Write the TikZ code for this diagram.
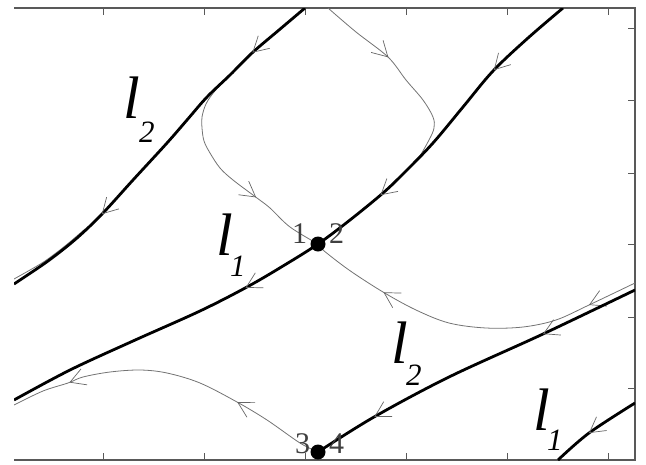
\documentclass[tikz,border=0pt]{standalone}
\usepackage{fontspec}
\setmainfont{Liberation Serif}
\usetikzlibrary{arrows.meta,decorations.markings}
\begin{document}
\begin{tikzpicture}[x=1pt,y=-1pt,
  heavy/.style={line width=2.8pt, black},
  traj/.style={line width=0.8pt, black!55},
  frameline/.style={line width=1.6pt, black!65},
  axtick/.style={line width=0.8pt, black!65},
  flowtip/.tip={Straight Barb[length=15pt,width=17pt,line width=0.7pt,color=black!60]},
  arr/.style={postaction={decorate,decoration={markings,#1}}},
  saddle/.style={circle, fill=black, minimum size=15pt, inner sep=0pt},
  lbl/.style={font=\fontsize{60}{60}\selectfont\itshape, inner sep=0pt, anchor=base west},
  sublbl/.style={font=\fontsize{31}{31}\selectfont\itshape, inner sep=0pt, anchor=base west},
  num/.style={font=\fontsize{30}{30}\selectfont, text=black!75, inner sep=0pt, anchor=base west}]
\useasboundingbox (0,0) rectangle (646,464);
\coordinate (p12) at (318,244);
\coordinate (p34) at (318,452);
% frame and ticks
\draw[frameline] (14,8) -- (635,8) -- (635,460) -- (14,460);
\foreach \x in {103,204,305,406,507,608} {
  \draw[axtick] (\x,8) -- (\x,15);
  \draw[axtick] (\x,460) -- (\x,453);
}
\foreach \y in {28,100,173,244,317,388} {
  \draw[axtick] (635,\y) -- (628,\y);
}
\begin{scope}
\clip (14,8) rectangle (635,460);
% thin trajectories
\draw[traj, arr={mark=at position 78pt with {\arrow{flowtip}}}]
  plot[smooth, tension=0.55] coordinates {(328,8) (356,32) (388,57) (406,80) (423,100) (433,117) (434,128) (429,140) (417,160) (400,177)};
\draw[traj, arr={mark=at position 151pt with {\arrow{flowtip}}}]
  plot[smooth, tension=0.55] coordinates {(228,77) (214,92) (206,104) (202,117) (202,128) (204,141) (210,153) (220,168) (233,180) (257,198) (270,208) (290,227) (p12)};
\draw[traj, arr={mark=at position 51pt with {\arrow{flowtip}}, mark=at position 268pt with {\arrow{flowtip}}}]
  plot[smooth, tension=0.55] coordinates {(635,283) (589,305) (556,320) (523,327) (486,328) (449,323) (416,310) (383,292) (349,270) (323,250) (p12)};
\draw[traj]
  plot[smooth, tension=0.55] coordinates {(10,281) (14,279) (30,270) (45,261) (65,246) (85,229)};
\draw[traj, arr={mark=at position 95pt with {\arrow{flowtip}}, mark=at position 271pt with {\arrow{flowtip}}}]
  plot[smooth, tension=0.55] coordinates {(p34) (300,443) (267,420) (237,402) (200,383) (167,373) (140,370) (110,372) (83,377) (68,383) (43,391) (14,405)};
% heavy separatrices
\draw[heavy, arr={mark=at position 93pt with {\arrow{flowtip}}, mark=at position 262pt with {\arrow{flowtip}}, mark=at position 426pt with {\arrow{flowtip}}}]
  plot[smooth, tension=0.55] coordinates {(563,8) (528,38) (493,71) (463,107) (433,143) (405,172) (383,193) (350,220) (p12) (283,266) (247,287) (200,311) (133,341) (70,370) (14,400)};
\draw[heavy, arr={mark=at position 69pt with {\arrow{flowtip}}, mark=at position 290pt with {\arrow{flowtip}}}]
  plot[smooth, tension=0.55] coordinates {(305,8) (279,30) (252,53) (230,75) (207,97) (187,120) (167,143) (133,180) (103,213) (77,238) (48,261) (14,284)};
\draw[heavy, arr={mark=at position 55pt with {\arrow{flowtip}}}]
  plot[smooth, tension=0.55] coordinates {(635,403) (589,433) (558,460)};
\draw[heavy, arr={mark=at position 102pt with {\arrow{flowtip}}, mark=at position 290pt with {\arrow{flowtip}}}]
  plot[smooth, tension=0.55] coordinates {(635,290) (543,334) (449,377) (374,417) (p34)};
\end{scope}
% saddle points
\node[saddle] (s12) at (p12) {};
\node[saddle] (s34) at (p34) {};
\node[num] (n1) at (292,243) {1};
\node[num] (n2) at (329,243) {2};
\node[num] (n3) at (295,453) {3};
\node[num] (n4) at (329,453) {4};
% labels
\node[lbl] (la) at (123,118) {l};
\node[sublbl] (lasub) at (139,142) {2};
\node[lbl] (lb) at (216,255) {l};
\node[sublbl] (lbsub) at (230,276) {1};
\node[lbl] (lc) at (391,363) {l};
\node[sublbl] (lcsub) at (406,385) {2};
\node[lbl] (ld) at (533,430) {l};
\node[sublbl] (ldsub) at (547,450) {1};
\end{tikzpicture}
\end{document}
